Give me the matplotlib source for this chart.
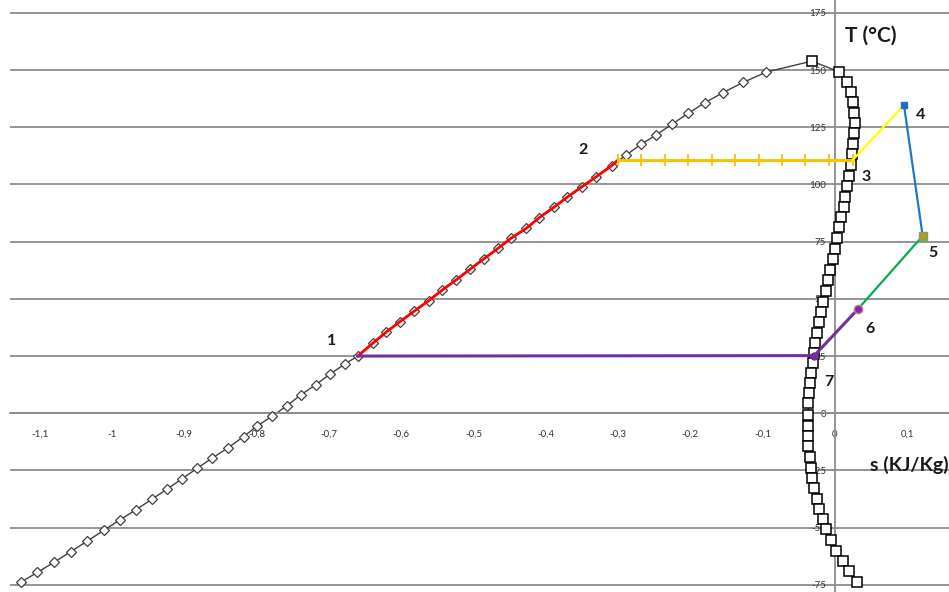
import matplotlib.pyplot as plt

plt.rcParams['font.family'] = ['Lato', 'DejaVu Sans']

# courbe de liquide saturé (s, T)
s_liq = [-1.126, -1.103, -1.080, -1.057, -1.034, -1.011, -0.989, -0.967, -0.945, -0.924,
         -0.903, -0.882, -0.861, -0.839, -0.818, -0.799, -0.778, -0.758, -0.739, -0.718,
         -0.699, -0.678, -0.660, -0.639, -0.621, -0.602, -0.582, -0.562, -0.543, -0.524,
         -0.505, -0.486, -0.466, -0.448, -0.427, -0.409, -0.389, -0.370, -0.350, -0.330,
         -0.309, -0.289, -0.268, -0.247, -0.225, -0.203, -0.180, -0.155, -0.127, -0.095]
T_liq = [-73.8, -69.5, -65.1, -60.5, -55.8, -51.1, -46.6, -42.2, -37.6, -33.2,
         -28.6, -24.0, -19.5, -15.0, -10.2, -5.5, -1.2, 3.3, 8.0, 12.5,
         17.0, 21.5, 25.0, 30.7, 35.4, 40.0, 44.6, 49.2, 53.9, 58.3,
         62.9, 67.4, 72.1, 76.5, 80.8, 85.5, 90.0, 94.5, 99.0, 103.4,
         108.2, 112.8, 117.6, 121.7, 126.4, 131.1, 135.7, 140.1, 144.6, 149.1]

# courbe de vapeur saturée (s, T), à partir du point critique
s_vap = [-0.032, 0.006, 0.017, 0.022, 0.025, 0.027, 0.028, 0.027, 0.025, 0.023,
         0.022, 0.020, 0.017, 0.014, 0.012, 0.008, 0.006, 0.003, 0.000, -0.003,
         -0.007, -0.010, -0.013, -0.016, -0.019, -0.022, -0.025, -0.027, -0.029, -0.031,
         -0.033, -0.035, -0.036, -0.037, -0.037, -0.037, -0.037, -0.037, -0.035, -0.033,
         -0.032, -0.029, -0.025, -0.022, -0.017, -0.012, -0.005, 0.002, 0.011, 0.020, 0.031]
T_vap = [153.9, 149.2, 144.9, 140.5, 135.9, 131.3, 127.0, 122.3, 117.6, 113.2,
         108.5, 103.8, 99.3, 94.6, 90.3, 85.9, 81.3, 76.5, 71.6, 67.3,
         62.6, 58.2, 53.6, 48.8, 44.1, 39.8, 35.2, 30.8, 26.5, 22.1,
         17.7, 13.4, 9.0, 4.4, -0.7, -5.5, -9.9, -14.3, -19.0, -23.8,
         -28.4, -32.8, -37.4, -41.9, -46.2, -50.7, -55.4, -60.0, -64.5, -68.9, -73.6]

# points du cycle 1..7
s_pts = [-0.660, -0.300, 0.0245, 0.0954, 0.1213, 0.0314, -0.0286]
T_pts = [25.0, 110.7, 110.7, 134.7, 77.5, 45.4, 25.2]
labels_pts = ['1', '2', '3', '4', '5', '6', '7']
lab_s = [-0.696, -0.349, 0.043, 0.119, 0.135, 0.048, -0.008]
lab_T = [31.6, 115.0, 103.2, 130.5, 69.9, 36.8, 13.8]

# évaporation 2-3 (points de la série)
s_23 = [-0.300, -0.268, -0.235, -0.203, -0.170, -0.138, -0.105, -0.073, -0.041, -0.008, 0.0245]

yticks = [-75, -50, -25, 0, 25, 50, 75, 100, 125, 150, 175]
xticks = [-1.1, -1.0, -0.9, -0.8, -0.7, -0.6, -0.5, -0.4, -0.3, -0.2, -0.1, 0.0, 0.1]
xlabels = ['-1,1', '-1', '-0,9', '-0,8', '-0,7', '-0,6', '-0,5', '-0,4', '-0,3', '-0,2', '-0,1', '0', '0,1']

fig = plt.figure(figsize=(9.49, 5.92), dpi=100)
ax = fig.add_axes([10 / 949, 0, 939 / 949, 1])

grid_col = '#8c8c8c'
for t in yticks:
    ax.axhline(t, color=grid_col, lw=1.3, zorder=0)

# courbes de saturation
ax.plot(s_liq + [s_vap[0]], T_liq + [T_vap[0]], color='#404040', lw=1, zorder=2)
ax.plot(s_liq, T_liq, ls='none', marker='D', ms=5.3, mfc='white', mec='#404040', mew=0.9, zorder=3)
ax.plot(s_vap, T_vap, color='#404040', lw=1, marker='s', ms=7, mfc='white', mec='black',
        mew=1.1, zorder=3)

# 1 -> 2 (rouge)
red_s = [s for s, t in zip(s_liq, T_liq) if T_pts[0] <= t <= T_pts[1]] + [s_pts[1]]
red_T = [t for t in T_liq if T_pts[0] <= t <= T_pts[1]] + [T_pts[1]]
ax.plot(red_s, red_T, color='#ff0000', lw=2, zorder=4)

# 2 -> 3 (orange)
ax.plot(s_23, [T_pts[1]] * len(s_23), color='#ffc000', lw=2.2, marker='|', ms=8, mew=1.3, zorder=4)
# 3 -> 4 (jaune)
ax.plot(s_pts[2:4], T_pts[2:4], color='#ffff00', lw=1.6, zorder=4)
# 4 -> 5 (bleu)
ax.plot(s_pts[3:5], T_pts[3:5], color='#1f78c8', lw=1.6, zorder=4)
ax.plot(s_pts[3], T_pts[3], marker='s', ms=5, color='#1f6fc0', zorder=5)
# 5 -> 6 (vert)
ax.plot(s_pts[4:6], T_pts[4:6], color='#00b050', lw=1.6, zorder=4)
ax.plot(s_pts[4], T_pts[4], marker='s', ms=6, mfc='#70ad47', mec='#70ad47', zorder=5)
ax.plot(s_pts[4], T_pts[4], marker='x', ms=5, mec='#ed7d31', mew=1.2, zorder=6)
# 6 -> 7 -> 1 (violet)
ax.plot([s_pts[5], s_pts[6], s_pts[0]], [T_pts[5], T_pts[6], T_pts[0]], color='#7030a0', lw=2.2, zorder=4)
ax.plot(s_pts[5], T_pts[5], marker='o', ms=6, mfc='#7030a0', mec='#e0709a', mew=1, zorder=5)
ax.plot(s_pts[6], T_pts[6], marker='o', ms=5, color='#7030a0', zorder=5)

for lab, x, y in zip(labels_pts, lab_s, lab_T):
    ax.text(x, y, lab, fontsize=11.5, fontweight='bold', color='#1a1a1a', ha='center', va='center')

ax.text(0.049, 164.8, 'T (°C)', fontsize=15, fontweight='bold', color='#1a1a1a', ha='center', va='center')
ax.text(0.1565, -22.6, 's (KJ/Kg)', fontsize=14, fontweight='bold', color='#1a1a1a', ha='right', va='center')

ax.set_xlim(-1.141, 0.1577)
ax.set_ylim(-78.1, 180.6)

for side in ['top', 'right']:
    ax.spines[side].set_visible(False)
ax.spines['left'].set_position(('data', 0))
ax.spines['bottom'].set_position(('data', 0))
ax.spines['left'].set_color(grid_col)
ax.spines['left'].set_linewidth(1.3)
ax.spines['bottom'].set_color(grid_col)
ax.spines['bottom'].set_linewidth(1.3)

ax.set_yticks(yticks)
ax.set_yticklabels([str(t) for t in yticks])
ax.set_xticks(xticks)
ax.set_xticklabels(xlabels)
ax.tick_params(axis='y', length=0, pad=6.5, labelsize=7, labelcolor='#333333')
ax.tick_params(axis='x', length=0, pad=12, labelsize=7, labelcolor='#333333')

fig.savefig('out.png', dpi=100)
